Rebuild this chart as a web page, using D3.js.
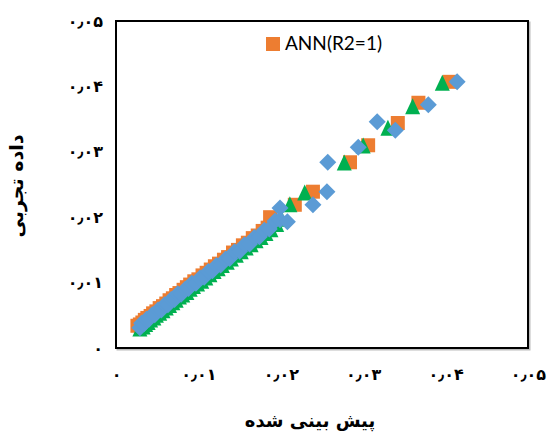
<!DOCTYPE html>
<html><head><meta charset="utf-8">
<script src="https://cdn.jsdelivr.net/npm/d3@7/dist/d3.min.js"></script>
<style>
html,body{margin:0;padding:0;background:#fff;}
svg{display:block;}
</style></head>
<body>
<svg id="chart" width="553" height="437"></svg>
<script>
// ---- data ----
const xTicks = [0, 0.01, 0.02, 0.03, 0.04, 0.05];
const yTicks = [0, 0.01, 0.02, 0.03, 0.04, 0.05];
const tickLabels = ["۰", "۰٫۰۱", "۰٫۰۲", "۰٫۰۳", "۰٫۰۴", "۰٫۰۵"];
const xTitle = "پیش بینی شده";
const yTitle = "داده تجربی";
const legendLabel = "ANN(R2=1)";

// [predicted, experimental]
const orangeSeries = [
 [0.0026,0.0034],[0.0029,0.0036],[0.0032,0.0039],[0.0035,0.0043],[0.0038,0.0046],[0.0042,0.0049],
 [0.0045,0.0053],[0.0049,0.0056],[0.0053,0.0061],[0.0057,0.0064],[0.0061,0.0068],[0.0065,0.0073],
 [0.0069,0.0076],[0.0073,0.0081],[0.0077,0.0084],[0.0082,0.0089],[0.0086,0.0093],[0.0090,0.0097],
 [0.0095,0.0102],[0.0100,0.0105],[0.0105,0.0111],[0.0110,0.0115],[0.0115,0.0120],[0.0120,0.0125],
 [0.0125,0.0129],[0.0131,0.0135],[0.0136,0.0139],[0.0142,0.0146],[0.0148,0.0150],[0.0154,0.0157],
 [0.0160,0.0161],[0.0166,0.0168],[0.0172,0.0172],[0.0178,0.0179],[0.0184,0.0184],[0.0191,0.0193],
 [0.0187,0.0200],[0.0217,0.0219],[0.0239,0.0239],[0.0284,0.0284],[0.0306,0.0310],
 [0.0342,0.0344],[0.0367,0.0375],[0.0405,0.0407]
];
const greenSeries = [
 [0.0029,0.0029],[0.0033,0.0032],[0.0036,0.0036],[0.0039,0.0039],[0.0042,0.0043],[0.0046,0.0046],
 [0.0049,0.0050],[0.0053,0.0053],[0.0057,0.0057],[0.0061,0.0061],[0.0065,0.0065],[0.0069,0.0069],
 [0.0073,0.0073],[0.0077,0.0078],[0.0081,0.0081],[0.0086,0.0085],[0.0090,0.0090],[0.0094,0.0094],
 [0.0099,0.0098],[0.0104,0.0102],[0.0109,0.0107],[0.0114,0.0112],[0.0119,0.0117],[0.0124,0.0121],
 [0.0129,0.0126],[0.0135,0.0131],[0.0140,0.0136],[0.0146,0.0142],[0.0152,0.0147],[0.0158,0.0153],
 [0.0164,0.0158],[0.0170,0.0164],[0.0176,0.0169],[0.0182,0.0175],[0.0188,0.0181],[0.0195,0.0189],
 [0.0201,0.0197],
 [0.0211,0.0219],[0.0229,0.0237],[0.0277,0.0283],[0.0300,0.0309],[0.0330,0.0336],
 [0.0360,0.0369],[0.0396,0.0405]
];
const blueSeries = [
 [0.0029,0.0031],[0.0031,0.0038],[0.0034,0.0037],[0.0037,0.0044],[0.0040,0.0044],[0.0044,0.0051],
 [0.0047,0.0051],[0.0051,0.0058],[0.0055,0.0058],[0.0059,0.0066],[0.0063,0.0066],[0.0067,0.0074],
 [0.0071,0.0074],[0.0075,0.0083],[0.0079,0.0082],[0.0084,0.0090],[0.0088,0.0091],[0.0092,0.0099],
 [0.0097,0.0099],[0.0102,0.0107],[0.0107,0.0108],[0.0112,0.0117],[0.0117,0.0118],[0.0122,0.0126],
 [0.0127,0.0127],[0.0133,0.0136],[0.0138,0.0137],[0.0144,0.0147],[0.0150,0.0148],[0.0156,0.0158],
 [0.0162,0.0159],[0.0168,0.0169],[0.0174,0.0170],[0.0180,0.0180],[0.0186,0.0182],[0.0193,0.0194],
 [0.0199,0.0196],
 [0.0208,0.0193],[0.0199,0.0214],[0.0239,0.0219],[0.0256,0.0239],[0.0257,0.0284],[0.0294,0.0307],
 [0.0339,0.0333],[0.0317,0.0346],[0.0379,0.0372],[0.0414,0.0407]
];

// ---- layout ----
const svg = d3.select("#chart");
const L = 116, R = 528, T = 21, B = 348;
const x = d3.scaleLinear().domain([0, 0.05]).range([L, R]);
const y = d3.scaleLinear().domain([0, 0.05]).range([B, T]);

const ORANGE = "#ED7D31", GREEN = "#00B050", BLUE = "#5B9BD5";
const numFont = "'DejaVu Sans', sans-serif";

// plot frame shadow + frame
svg.append("rect").attr("x", L + 1.5).attr("y", T + 1.5).attr("width", R - L).attr("height", B - T)
  .attr("fill", "none").attr("stroke", "#bbb").attr("stroke-width", 2);
svg.append("rect").attr("x", L).attr("y", T).attr("width", R - L).attr("height", B - T)
  .attr("fill", "#fff").attr("stroke", "#000").attr("stroke-width", 2);

// axes (labels only)
const xAxis = d3.axisBottom(x).tickValues(xTicks).tickSize(0).tickPadding(0)
  .tickFormat((d, i) => tickLabels[i]);
const gx = svg.append("g").attr("transform", `translate(0, ${B + 26})`).call(xAxis);
gx.select(".domain").remove();
gx.selectAll("text").attr("font-family", numFont).attr("font-weight", "bold")
  .attr("font-size", 16).attr("fill", "#000").attr("dy", "0.35em").attr("y", 0);

const yAxis = d3.axisLeft(y).tickValues(yTicks).tickSize(0).tickPadding(0)
  .tickFormat((d, i) => tickLabels[i]);
const gy = svg.append("g").attr("transform", `translate(${L - 13}, 0)`).call(yAxis);
gy.select(".domain").remove();
gy.selectAll("text").attr("font-family", numFont).attr("font-weight", "bold")
  .attr("font-size", 16).attr("fill", "#000").attr("x", 0);

// marker shapes
const sq = 14, tri = 15, dia = 17;
const squarePath = `M${-sq/2},${-sq/2}h${sq}v${sq}h${-sq}Z`;
const triPath = `M0,${-tri/2 - 1}L${tri/2},${tri/2}L${-tri/2},${tri/2}Z`;
const diaPath = `M0,${-dia/2}L${dia/2},0L0,${dia/2}L${-dia/2},0Z`;

const plot = svg.append("g");
plot.selectAll("path.o").data(orangeSeries).join("path").attr("class", "o")
  .attr("d", squarePath).attr("fill", ORANGE)
  .attr("transform", d => `translate(${x(d[0])},${y(d[1])})`);
plot.selectAll("path.g").data(greenSeries).join("path").attr("class", "g")
  .attr("d", triPath).attr("fill", GREEN)
  .attr("transform", d => `translate(${x(d[0])},${y(d[1])})`);
plot.selectAll("path.b").data(blueSeries).join("path").attr("class", "b")
  .attr("d", diaPath).attr("fill", BLUE)
  .attr("transform", d => `translate(${x(d[0])},${y(d[1])})`);

// legend
svg.append("rect").attr("x", 266).attr("y", 37).attr("width", 14).attr("height", 14).attr("fill", ORANGE);
svg.append("text").attr("x", 285).attr("y", 50).attr("font-family", "Lato, 'Liberation Sans', sans-serif")
  .attr("font-size", 19).attr("fill", "#000").text(legendLabel);

// axis titles
svg.append("text").attr("x", 310).attr("y", 422).attr("text-anchor", "middle")
  .attr("dominant-baseline", "middle")
  .attr("font-family", numFont).attr("font-weight", "bold").attr("font-size", 18)
  .attr("direction", "rtl").text(xTitle);
svg.append("text").attr("transform", "translate(17,186) rotate(-90)").attr("text-anchor", "middle")
  .attr("dominant-baseline", "middle")
  .attr("font-family", numFont).attr("font-weight", "bold").attr("font-size", 19)
  .attr("direction", "rtl").text(yTitle);
</script>
</body></html>
